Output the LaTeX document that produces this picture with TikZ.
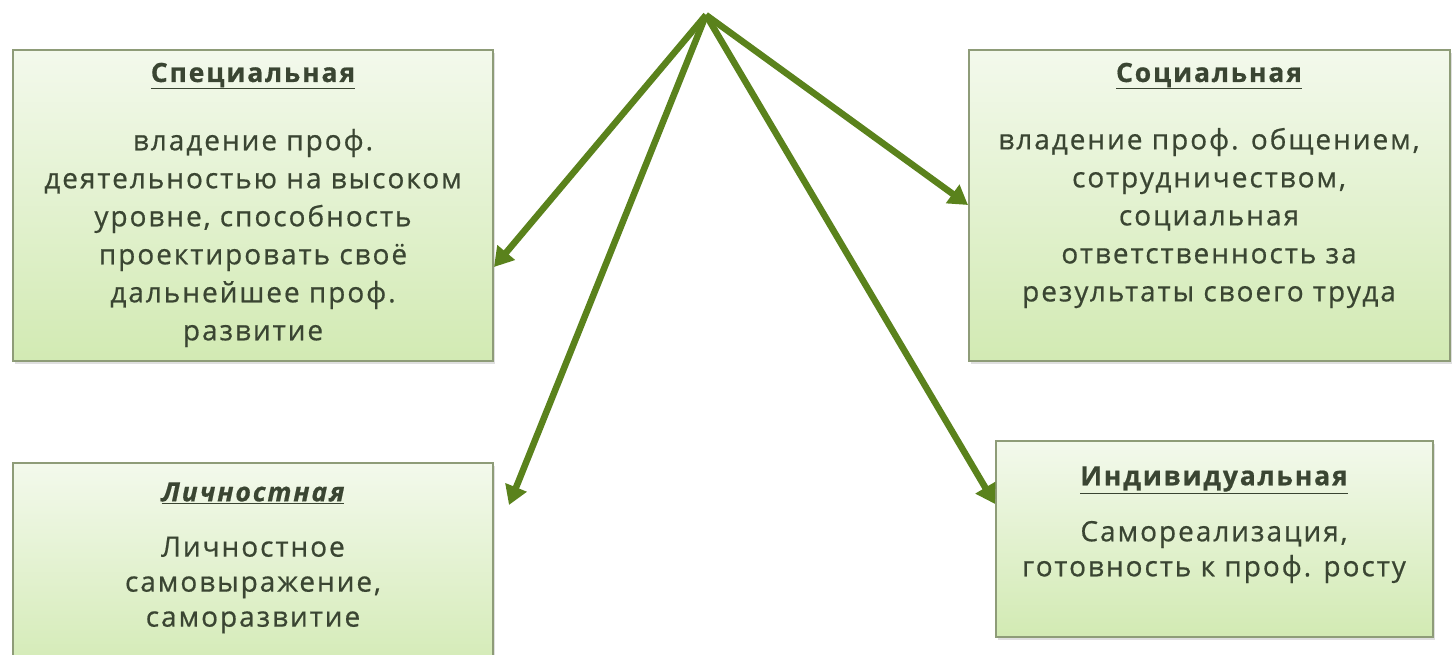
\documentclass[tikz,border=0pt]{standalone}
\usepackage{fontspec}
\setmainfont{Open Sans}[LetterSpace=7,FakeBold=0.6]
\usetikzlibrary{arrows.meta,shadows}
\definecolor{arrowgreen}{HTML}{5A821C}
\definecolor{boxedge}{HTML}{8E9C78}
\definecolor{boxtop}{HTML}{F3F9EC}
\definecolor{boxbot}{HTML}{D2EAB3}
\definecolor{txt}{HTML}{3A4532}
\tikzset{
  card/.style={draw=boxedge, line width=2.5pt, top color=boxtop, bottom color=boxbot,
    drop shadow={opacity=0.25, shadow xshift=2pt, shadow yshift=-3pt}},
  ttl/.style={font=\fontsize{26.5}{30}\selectfont\bfseries, text=txt},
  body/.style={font=\fontsize{28}{38}\selectfont, text=txt, align=center},
  bodyb/.style={font=\fontsize{28}{35}\selectfont, text=txt, align=center},
  link/.style={draw=arrowgreen, line width=6.5pt, -{Triangle[length=19pt,width=22pt]}}
}
\begin{document}
\begin{tikzpicture}[x=1pt,y=-1pt]
\useasboundingbox (0,0) rectangle (1454,655);
\fill[white] (0,0) rectangle (1454,655);
% boxes
\path[card] (13,50) rectangle (493,361) coordinate (b1c);
\path[card] (969,50) rectangle (1450,361) coordinate (b2c);
\path[card] (13,463) rectangle (493,680) coordinate (b3c);
\path[card] (996,441) rectangle (1433,637) coordinate (b4c);
% titles
\node[ttl] (t1) at (253,76) {\underline{Специальная}};
\node[ttl] (t2) at (1209,76) {\underline{Социальная}};
\node[ttl] (t3) at (253,493) {\underline{\itshape Личностная}};
\node[ttl] (t4) at (1214,480) {\underline{Индивидуальная}};
% bodies
\node[body] (d1) at (253,238) {владение проф.\\деятельностью на высоком\\уровне, способность\\проектировать своё\\дальнейшее проф.\\развитие};
\node[body] (d2) at (1209,218) {владение проф. общением,\\сотрудничеством,\\социальная\\ответственность за\\результаты своего труда};
\node[bodyb] (d3) at (253,585) {Личностное\\самовыражение,\\саморазвитие};
\node[bodyb] (d4) at (1214,552) {Самореализация,\\готовность к проф. росту};
% arrows
\coordinate (apex) at (706,15);
\coordinate (e1) at (494,267);
\coordinate (e2) at (968,205);
\coordinate (e3) at (509,505);
\coordinate (e4) at (995,504);
\draw[link] (apex) -- (e1);
\draw[link] (apex) -- (e2);
\draw[link] (apex) -- (e3);
\draw[link] (apex) -- (e4);
\end{tikzpicture}
\end{document}
